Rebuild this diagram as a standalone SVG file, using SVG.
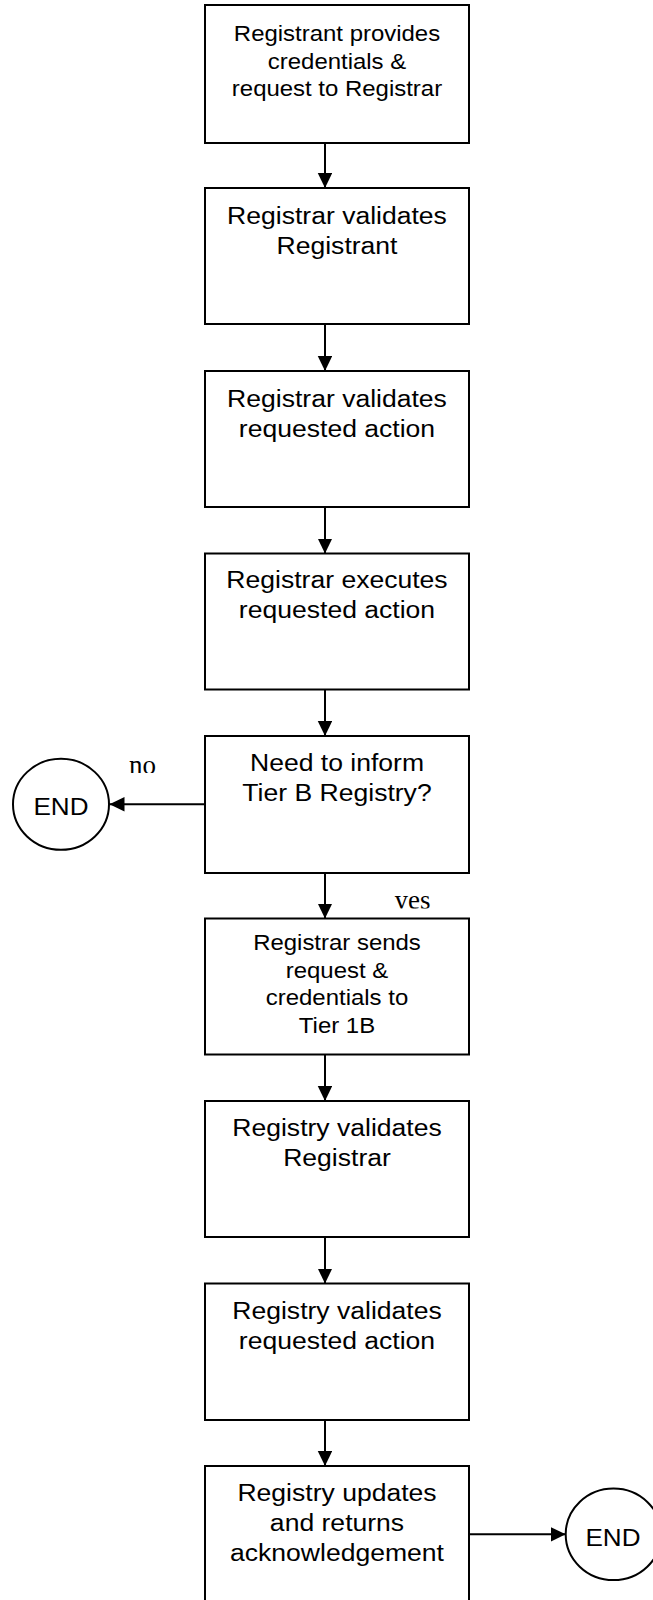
<svg xmlns="http://www.w3.org/2000/svg" width="653" height="1600" viewBox="0 0 653 1600">
<style>
.box{fill:#fff;stroke:#000;stroke-width:2}
.term{fill:#fff;stroke:#000;stroke-width:2}
.t{font-family:"Liberation Sans",Arial,sans-serif;font-size:23.5px;fill:#000;text-anchor:middle}
.ts{font-family:"Liberation Sans",Arial,sans-serif;font-size:21.2px;fill:#000;text-anchor:middle}
.lbl{font-family:"Liberation Serif","Times New Roman",serif;font-size:27px;fill:#000;text-anchor:middle}
.conn{stroke:#000;stroke-width:2;fill:none;marker-end:url(#ah)}
</style>
<defs>
<marker id="ah" markerUnits="userSpaceOnUse" markerWidth="16" markerHeight="15" refX="15" refY="7.25" orient="auto">
<path d="M0,0 L15,7.25 L0,14.5 z" fill="#000"/>
</marker>
<clipPath id="clipNo"><rect x="100" y="740" width="80" height="33"/></clipPath>
<clipPath id="clipYes"><rect x="380" y="880" width="70" height="28.5"/></clipPath>
</defs>
<rect width="653" height="1600" fill="#fff"/>

<g id="connectors">
<line class="conn" x1="325" y1="143" x2="325" y2="188"/>
<line class="conn" x1="325" y1="324" x2="325" y2="371"/>
<line class="conn" x1="325" y1="507" x2="325" y2="553.5"/>
<line class="conn" x1="325" y1="689.5" x2="325" y2="736"/>
<line class="conn" x1="205" y1="804.3" x2="109.5" y2="804.3"/>
<line class="conn" x1="325" y1="873" x2="325" y2="918.5"/>
<line class="conn" x1="325" y1="1054.5" x2="325" y2="1101"/>
<line class="conn" x1="325" y1="1237" x2="325" y2="1283.5"/>
<line class="conn" x1="325" y1="1420" x2="325" y2="1466"/>
<line class="conn" x1="469.3" y1="1534.3" x2="565.7" y2="1534.3"/>
<g clip-path="url(#clipNo)"><text class="lbl" x="142.5" y="774">no</text></g>
<g clip-path="url(#clipYes)"><text class="lbl" x="412.5" y="908.5">yes</text></g>
</g>

<g id="n1">
<rect class="box" x="205" y="5" width="264" height="138"/>
<g transform="translate(337 0) scale(1.13 1)">
<text class="ts" x="0" y="41.5">Registrant provides</text>
<text class="ts" x="0" y="69">credentials &amp;</text>
<text class="ts" x="0" y="96.5">request to Registrar</text>
</g>
</g>

<g id="n2">
<rect class="box" x="205" y="188" width="264" height="136"/>
<g transform="translate(337 0) scale(1.13 1)">
<text class="t" x="0" y="224">Registrar validates</text>
<text class="t" x="0" y="254">Registrant</text>
</g>
</g>

<g id="n3">
<rect class="box" x="205" y="371" width="264" height="136"/>
<g transform="translate(337 0) scale(1.13 1)">
<text class="t" x="0" y="407">Registrar validates</text>
<text class="t" x="0" y="437">requested action</text>
</g>
</g>

<g id="n4">
<rect class="box" x="205" y="553.5" width="264" height="136"/>
<g transform="translate(337 0) scale(1.13 1)">
<text class="t" x="0" y="588.5">Registrar executes</text>
<text class="t" x="0" y="618">requested action</text>
</g>
</g>

<g id="n5">
<rect class="box" x="205" y="736" width="264" height="137"/>
<g transform="translate(337 0) scale(1.13 1)">
<text class="t" x="0" y="771">Need to inform</text>
<text class="t" x="0" y="801">Tier B Registry?</text>
</g>
</g>

<g id="end1">
<ellipse class="term" cx="61" cy="804.3" rx="48" ry="45.5"/>
<g transform="translate(61 0) scale(1.11 1)">
<text class="t" x="0" y="815">END</text>
</g>
</g>

<g id="n6">
<rect class="box" x="205" y="918.5" width="264" height="136"/>
<g transform="translate(337 0) scale(1.13 1)">
<text class="ts" x="0" y="950.5">Registrar sends</text>
<text class="ts" x="0" y="978">request &amp;</text>
<text class="ts" x="0" y="1005.5">credentials to</text>
<text class="ts" x="0" y="1033">Tier 1B</text>
</g>
</g>

<g id="n7">
<rect class="box" x="205" y="1101" width="264" height="136"/>
<g transform="translate(337 0) scale(1.13 1)">
<text class="t" x="0" y="1136">Registry validates</text>
<text class="t" x="0" y="1166">Registrar</text>
</g>
</g>

<g id="n8">
<rect class="box" x="205" y="1283.5" width="264" height="136.5"/>
<g transform="translate(337 0) scale(1.13 1)">
<text class="t" x="0" y="1319">Registry validates</text>
<text class="t" x="0" y="1349">requested action</text>
</g>
</g>

<g id="n9">
<rect class="box" x="205" y="1466" width="264" height="150"/>
<g transform="translate(337 0) scale(1.13 1)">
<text class="t" x="0" y="1501">Registry updates</text>
<text class="t" x="0" y="1531">and returns</text>
<text class="t" x="0" y="1561">acknowledgement</text>
</g>
</g>

<g id="end2">
<ellipse class="term" cx="613.5" cy="1534.3" rx="47.8" ry="45.8"/>
<g transform="translate(613 0) scale(1.11 1)">
<text class="t" x="0" y="1546">END</text>
</g>
</g>
</svg>
